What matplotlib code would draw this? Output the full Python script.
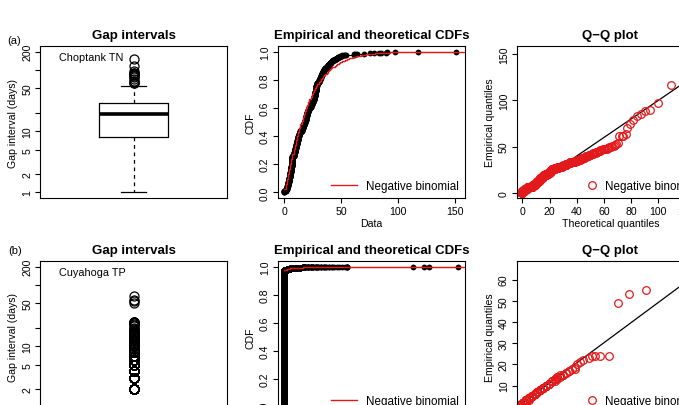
import numpy as np
import matplotlib
matplotlib.use("Agg")
import matplotlib.pyplot as plt

plt.rcParams["font.family"] = ["Liberation Sans", "DejaVu Sans"]

# (a) Choptank TN: gap interval data (days - 1), value -> count, plus sparse tail
a_values = list(range(0, 55))
a_counts = [6, 8, 14, 18, 20, 24, 26, 45, 18, 18,
            18, 18, 18, 12, 12, 12, 12, 12, 12, 20,
            16, 11, 11, 11, 11, 11, 16, 22, 26, 14,
            12, 10, 10, 10, 9, 8, 7, 7, 6, 5,
            5, 5, 4, 4, 3, 3, 3, 3, 2, 2,
            2, 2, 1, 1, 1]
a_tail = [61, 61, 62, 64, 70, 75, 79, 83, 85, 89, 90, 97, 117, 151]
a_nb_size = 1.28

# (b) Cuyahoga TP: nearly daily sampling, most gaps are one day
b_values = [0, 1, 2, 3, 4, 5, 6, 7, 8, 9, 10, 11, 12, 13, 14, 15, 16, 17,
            18, 19, 20, 21, 22, 23, 24, 49, 53, 55, 66]
b_counts = [9760, 80, 40, 24, 17, 13, 10, 8, 7, 6, 5, 4, 4, 3, 3, 3, 2, 2,
            2, 1, 1, 1, 1, 1, 4, 1, 1, 1, 1]
b_nb_size = 0.009

site_names = ["Choptank TN", "Cuyahoga TP"]
panel_tags = ["(a)", "(b)"]
box_ticks = [1, 2, 5, 10, 20, 50, 100, 200]
box_ticklabels = ["1", "2", "5", "10", "", "50", "", "200"]

W, H = 679, 406
col_px = [(40, 227), (277.5, 465), (516.5, 704)]
row_px = [(47, 199), (262, 414)]
tag_px = [(14.5, 40.5), (15.5, 250.5)]
cdf_xlim = [(-6.1, 158.7), (-2.6, 68.8)]
qq_xlim = [(-4.4, 133.6), (-0.3, 65.2)]
qq_ylim = [(-5.4, 158.7), (-2.9, 68.8)]
qq_yticks = [[0, 50, 100, 150], [0, 10, 20, 30, 40, 50, 60]]
cdf_xticks = [[0, 50, 100, 150], [0, 10, 20, 30, 40, 50, 60]]
qq_xticks = [[0, 20, 40, 60, 80, 100, 120], [0, 10, 20, 30, 40, 50, 60]]

FS = 7.6
RED = "#e31a1c"


def expand(values, counts, extra=()):
    data = np.repeat(np.array(values, dtype=float), counts)
    return np.sort(np.concatenate([data, np.array(extra, dtype=float)]))


def nb_cdf(size, mu, xmax):
    pr = mu / (size + mu)
    pmf = np.empty(xmax + 1)
    pmf[0] = (size / (size + mu)) ** size
    for x in range(xmax):
        pmf[x + 1] = pmf[x] * (x + size) / (x + 1) * pr
    return np.cumsum(pmf)


def style_axes(ax):
    for s in ax.spines.values():
        s.set_linewidth(0.8)
    ax.tick_params(direction="out", length=3.5, width=0.8, labelsize=FS, pad=2)
    ax.tick_params(axis="y", labelrotation=90)
    for lbl in ax.get_yticklabels():
        lbl.set_va("center")


def add_axes(r, c):
    x0, x1 = col_px[c]
    y0, y1 = row_px[r]
    return fig.add_axes([x0 / W, 1 - y1 / H, (x1 - x0) / W, (y1 - y0) / H])


fig = plt.figure(figsize=(W / 100, H / 100), dpi=100)

datasets = [
    (expand(a_values, a_counts, a_tail), a_nb_size),
    (expand(b_values, b_counts), b_nb_size),
]

for r, (data, size) in enumerate(datasets):
    n = len(data)
    mu = data.mean()
    cdf = nb_cdf(size, mu, 3000)

    fig.text(tag_px[r][0] / W, 1 - tag_px[r][1] / H, panel_tags[r],
             fontsize=8, ha="center", va="center")

    # box plot of gap intervals (days)
    ax = add_axes(r, 0)
    ax.set_yscale("log")
    ax.boxplot(data + 1, positions=[1], widths=0.4, whis=1.5,
               boxprops=dict(color="black", linewidth=0.9),
               medianprops=dict(color="black", linewidth=2.6),
               whiskerprops=dict(color="black", linewidth=0.9, linestyle=(0, (3, 3))),
               capprops=dict(color="black", linewidth=0.9),
               capwidths=0.15,
               flierprops=dict(marker="o", markerfacecolor="none",
                               markeredgecolor="black", markersize=6.5,
                               markeredgewidth=0.9))
    ax.set_xlim(0.46, 1.54)
    ax.set_ylim(10 ** -0.092, 10 ** 2.393)
    ax.set_xticks([])
    ax.set_yticks(box_ticks)
    ax.set_yticklabels(box_ticklabels)
    ax.minorticks_off()
    ax.set_ylabel("Gap interval (days)", fontsize=FS, labelpad=3)
    ax.set_title("Gap intervals", fontsize=9.5, fontweight="bold", pad=6)
    ax.text(0.1, 0.93, site_names[r], transform=ax.transAxes, fontsize=7.8,
            ha="left", va="center")
    style_axes(ax)

    # empirical and theoretical CDFs
    ax = add_axes(r, 1)
    xs = np.arange(0, int(cdf_xlim[r][1]) + 2)
    ecdf_y = np.arange(1, n + 1) / n
    uniq = np.unique(data)
    ecdf_u = np.searchsorted(data, uniq, side="right") / n
    ax.step(uniq, ecdf_u, where="post", color="black", linewidth=0.8)
    ax.plot(data, ecdf_y, "o", color="black", markersize=4.2, markeredgewidth=0)
    ax.step(xs, cdf[xs], where="post", color=RED, linewidth=1.0,
            label="Negative binomial")
    ax.set_xlim(*cdf_xlim[r])
    ax.set_ylim(-0.04, 1.04)
    ax.set_xticks(cdf_xticks[r])
    ax.set_yticks([0, 0.2, 0.4, 0.6, 0.8, 1.0])
    ax.set_yticklabels(["0.0", "0.2", "0.4", "0.6", "0.8", "1.0"])
    ax.set_xlabel("Data", fontsize=FS, labelpad=2)
    ax.set_ylabel("CDF", fontsize=FS, labelpad=3)
    ax.set_title("Empirical and theoretical CDFs", fontsize=9.5,
                 fontweight="bold", pad=6)
    ax.legend(loc="lower right", frameon=False, fontsize=8.4, handlelength=2.2,
              borderaxespad=0.1, handletextpad=0.8)
    style_axes(ax)

    # Q-Q plot
    ax = add_axes(r, 2)
    probs = (np.arange(1, n + 1) - 0.5) / n
    theo = np.searchsorted(cdf, probs - 1e-10)
    ax.axline((0, 0), slope=1, color="black", linewidth=0.9)
    ax.plot(theo, data, "o", markerfacecolor="none", markeredgecolor=RED,
            markersize=5.5, markeredgewidth=0.9, label="Negative binomial")
    ax.set_xlim(*qq_xlim[r])
    ax.set_ylim(*qq_ylim[r])
    ax.set_xticks(qq_xticks[r])
    ax.set_yticks(qq_yticks[r])
    ax.set_xlabel("Theoretical quantiles", fontsize=FS, labelpad=2)
    ax.set_ylabel("Empirical quantiles", fontsize=FS, labelpad=3)
    ax.set_title("Q\u2212Q plot", fontsize=9.5, fontweight="bold", pad=6)
    ax.legend(loc="lower right", frameon=False, fontsize=8.4, handlelength=1.0,
              borderaxespad=0.1, handletextpad=0.6)
    style_axes(ax)

fig.savefig("out.png", dpi=100)
